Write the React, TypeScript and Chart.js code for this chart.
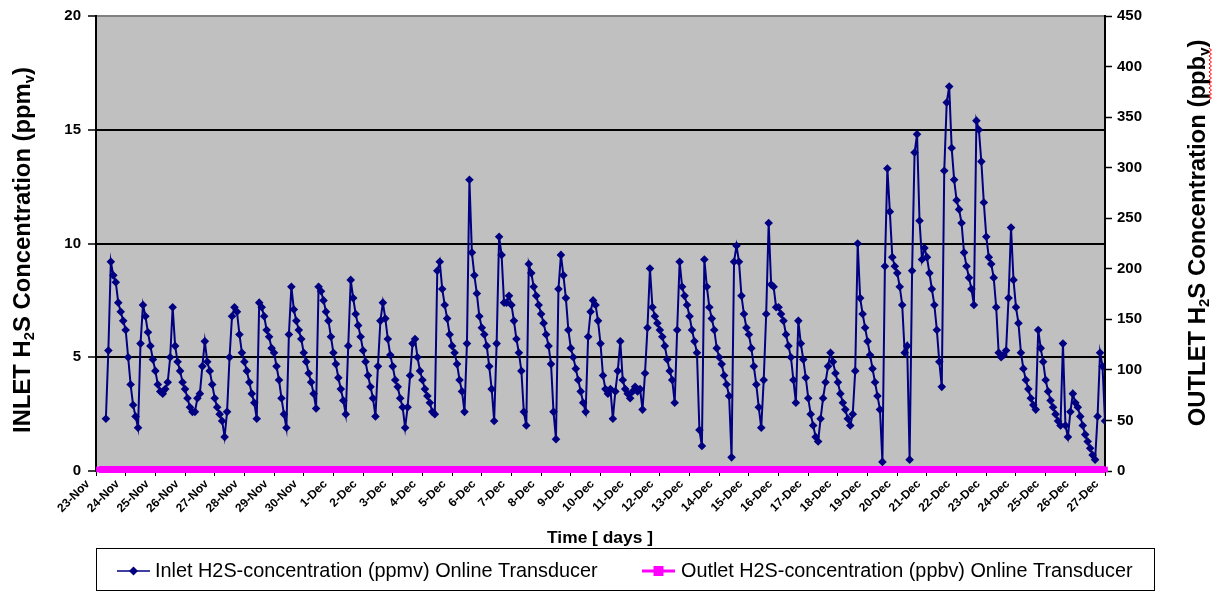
import React, { useEffect, useRef } from 'react';
import { Chart, registerables } from 'chart.js';

Chart.register(...registerables);

const FONT = "'Liberation Sans', Arial, sans-serif";

// Day tick labels (one per day tick)
const dayLabels = [
  '23-Nov', '24-Nov', '25-Nov', '26-Nov', '27-Nov', '28-Nov', '29-Nov', '30-Nov',
  '1-Dec', '2-Dec', '3-Dec', '4-Dec', '5-Dec', '6-Dec', '7-Dec', '8-Dec', '9-Dec',
  '10-Dec', '11-Dec', '12-Dec', '13-Dec', '14-Dec', '15-Dec', '16-Dec', '17-Dec',
  '18-Dec', '19-Dec', '20-Dec', '21-Dec', '22-Dec', '23-Dec', '24-Dec', '25-Dec',
  '26-Dec', '27-Dec',
];

// Inlet readings, 12 samples per day (every 2 h), ppmv
const samplesPerDay = 12;
const inletPpmv: (number | null)[] = [
  null, null, null, null, 2.3, 5.3, 9.2, 8.6, 8.3, 7.4, 7.0, 6.6,
  6.2, 5.0, 3.8, 2.9, 2.4, 1.9, 5.6, 7.3, 6.8, 6.1, 5.5, 4.9,
  4.4, 3.8, 3.5, 3.4, 3.6, 3.9, 5.0, 7.2, 5.5, 4.8, 4.4, 3.9,
  3.6, 3.2, 2.8, 2.6, 2.6, 3.2, 3.4, 4.6, 5.7, 4.8, 4.4, 3.8,
  3.2, 2.8, 2.5, 2.2, 1.5, 2.6, 5.0, 6.8, 7.2, 7.0, 6.0, 5.2,
  4.8, 4.4, 3.9, 3.4, 3.0, 2.3, 7.4, 7.2, 6.8, 6.2, 5.9, 5.4,
  5.2, 4.6, 4.0, 3.2, 2.5, 1.9, 6.0, 8.1, 7.1, 6.6, 6.2, 5.8,
  5.2, 4.8, 4.3, 3.9, 3.4, 2.75, 8.1, 7.9, 7.5, 7.0, 6.6, 5.9,
  5.2, 4.7, 4.1, 3.6, 3.1, 2.5, 5.5, 8.4, 7.6, 6.9, 6.4, 5.9,
  5.3, 4.8, 4.2, 3.7, 3.2, 2.4, 4.6, 6.6, 7.4, 6.7, 5.8, 5.1,
  4.6, 4.0, 3.7, 3.2, 2.8, 1.9, 2.8, 4.2, 5.6, 5.8, 5.0, 4.4,
  4.0, 3.6, 3.3, 3.0, 2.6, 2.5, 8.8, 9.2, 8.0, 7.3, 6.7, 6.0,
  5.5, 5.2, 4.7, 4.0, 3.5, 2.6, 5.6, 12.8, 9.6, 8.6, 7.8, 6.8,
  6.3, 6.0, 5.5, 4.6, 3.6, 2.2, 5.6, 10.3, 9.5, 7.4, 7.4, 7.7,
  7.3, 6.6, 5.8, 5.2, 4.4, 2.6, 2.0, 9.1, 8.7, 8.1, 7.7, 7.3,
  6.9, 6.5, 6.0, 5.5, 4.7, 2.6, 1.4, 8.0, 9.5, 8.6, 7.6, 6.2,
  5.4, 5.0, 4.5, 4.0, 3.5, 3.0, 2.6, 5.9, 7.0, 7.5, 7.3, 6.6,
  5.6, 4.2, 3.6, 3.4, 3.6, 2.3, 3.5, 4.4, 5.7, 4.0, 3.6, 3.4,
  3.2, 3.5, 3.7, 3.5, 3.6, 2.7, 4.3, 6.3, 8.9, 7.2, 6.8, 6.5,
  6.2, 5.9, 5.5, 4.9, 4.4, 4.0, 3.0, 6.2, 9.2, 8.1, 7.7, 7.3,
  6.8, 6.2, 5.7, 5.2, 1.8, 1.1, 9.3, 8.1, 7.2, 6.7, 6.2, 5.4,
  5.0, 4.7, 4.2, 3.8, 3.3, 0.6, 9.2, 9.9, 9.2, 7.7, 6.9, 6.3,
  6.0, 5.4, 4.6, 3.8, 2.8, 1.9, 4.0, 6.9, 10.9, 8.2, 8.1, 7.2,
  7.2, 6.9, 6.6, 6.0, 5.5, 5.0, 4.0, 3.0, 6.6, 5.6, 4.9, 4.1,
  3.2, 2.5, 2.0, 1.5, 1.3, 2.3, 3.2, 3.9, 4.6, 5.2, 4.8, 4.3,
  3.9, 3.4, 3.0, 2.7, 2.3, 2.0, 2.5, 4.4, 10.0, 7.6, 6.9, 6.3,
  5.7, 5.1, 4.5, 3.9, 3.3, 2.7, 0.4, 9.0, 13.3, 11.4, 9.4, 9.0,
  8.7, 8.1, 7.3, 5.2, 5.5, 0.5, 8.8, 14.0, 14.8, 11.0, 9.3, 9.8,
  9.4, 8.7, 8.0, 7.3, 6.2, 4.8, 3.7, 13.2, 16.2, 16.9, 14.2, 12.8,
  11.9, 11.5, 10.9, 9.6, 9.0, 8.5, 8.0, 7.3, 15.4, 15.0, 13.6, 11.8,
  10.3, 9.4, 9.1, 8.5, 7.2, 5.2, 5.0, 5.1, 5.3, 7.6, 10.7, 8.4,
  7.2, 6.5, 5.2, 4.5, 4.0, 3.6, 3.2, 2.9, 2.7, 6.2, 5.4, 4.8,
  4.0, 3.5, 3.1, 2.8, 2.5, 2.2, 2.0, 5.6, 2.0, 1.5, 2.6, 3.4,
  3.0, 2.8, 2.4, 2.0, 1.6, 1.3, 1.0, 0.7, 0.5, 2.4, 5.2, 4.6,
  2.2,
];

// Outlet readings (ppbv), one per day
const outletDays = [
  0.1, 1, 2, 3, 4, 5, 6, 7, 8, 9, 10, 11, 12, 13, 14, 15, 16, 17, 18, 19, 20,
  21, 22, 23, 24, 25, 26, 27, 28, 29, 30, 31, 32, 33, 34,
];
const outletPpbv = [
  1.5, 1.5, 1.5, 1.5, 1.5, 1.5, 1.5, 1.5, 1.5, 1.5, 1.5, 1.5, 1.5, 1.5, 1.5, 1.5, 1.5, 1.5,
  1.5, 1.5, 1.5, 1.5, 1.5, 1.5, 1.5, 1.5, 1.5, 1.5, 1.5, 1.5, 1.5, 1.5, 1.5, 1.5, 1.5,
];

const inletLabel = 'Inlet H2S-concentration (ppmv) Online Transducer';
const outletLabel = 'Outlet H2S-concentration (ppbv) Online Transducer';

type Part = { t: string; sub?: boolean };

function partsWidth(ctx: CanvasRenderingContext2D, parts: Part[], size: number, weight: string) {
  let w = 0;
  for (const p of parts) {
    ctx.font = `${weight} ${p.sub ? size * 0.62 : size}px ${FONT}`;
    w += ctx.measureText(p.t).width;
  }
  return w;
}

function drawParts(
  ctx: CanvasRenderingContext2D, parts: Part[], cx: number, cy: number,
  target: number, rot: number, weight: string, align: 'center' | 'left' = 'center',
) {
  const size = (20 * target) / partsWidth(ctx, parts, 20, weight);
  const total = partsWidth(ctx, parts, size, weight);
  ctx.save();
  ctx.translate(cx, cy);
  ctx.rotate(rot);
  ctx.fillStyle = '#000';
  ctx.textBaseline = 'middle';
  ctx.textAlign = 'left';
  let x = align === 'center' ? -total / 2 : 0;
  for (const p of parts) {
    const s = p.sub ? size * 0.62 : size;
    ctx.font = `${weight} ${s}px ${FONT}`;
    ctx.fillText(p.t, x, p.sub ? size * 0.3 : 0);
    x += ctx.measureText(p.t).width;
  }
  ctx.restore();
}

const decorPlugin = {
  id: 'decor',
  beforeDraw(chart: any) {
    const { ctx, chartArea: a } = chart;
    ctx.save();
    ctx.fillStyle = '#C0C0C0';
    ctx.fillRect(a.left, a.top, a.right - a.left, a.bottom - a.top);
    ctx.restore();
  },
  afterDraw(chart: any) {
    const ctx: CanvasRenderingContext2D = chart.ctx;
    // axis titles
    drawParts(ctx, [{ t: 'INLET H' }, { t: '2', sub: true }, { t: 'S Concentration (ppm' }, { t: 'v', sub: true }, { t: ')' }],
      23, 250, 366, -Math.PI / 2, 'bold');
    drawParts(ctx, [{ t: 'OUTLET H' }, { t: '2', sub: true }, { t: 'S Concentration (ppb' }, { t: 'v', sub: true }, { t: ')' }],
      1198, 233, 387, -Math.PI / 2, 'bold');
    drawParts(ctx, [{ t: 'Time [ days ]' }], 600, 538, 106, 0, 'bold');

    // red squiggle under "ppbv"
    ctx.save();
    ctx.strokeStyle = '#ff0000';
    ctx.lineWidth = 1;
    ctx.beginPath();
    let flip = false;
    ctx.moveTo(1209, 48);
    for (let y = 50; y <= 100; y += 2) {
      ctx.lineTo(flip ? 1209 : 1211.5, y);
      flip = !flip;
    }
    ctx.stroke();
    ctx.restore();

    // legend box
    ctx.save();
    ctx.strokeStyle = '#000';
    ctx.lineWidth = 1;
    ctx.strokeRect(96.5, 548.5, 1058, 42);
    // inlet sample
    ctx.strokeStyle = '#000080';
    ctx.lineWidth = 1.5;
    ctx.beginPath();
    ctx.moveTo(117, 571);
    ctx.lineTo(150, 571);
    ctx.stroke();
    ctx.fillStyle = '#000080';
    ctx.beginPath();
    ctx.moveTo(133.5, 566.5);
    ctx.lineTo(138, 571);
    ctx.lineTo(133.5, 575.5);
    ctx.lineTo(129, 571);
    ctx.closePath();
    ctx.fill();
    // outlet sample
    ctx.strokeStyle = '#FF00FF';
    ctx.lineWidth = 3;
    ctx.beginPath();
    ctx.moveTo(642, 571);
    ctx.lineTo(675, 571);
    ctx.stroke();
    ctx.fillStyle = '#FF00FF';
    ctx.fillRect(653.5, 566, 10, 10);
    ctx.restore();
    drawParts(ctx, [{ t: inletLabel }], 155, 572, 443, 0, 'normal', 'left');
    drawParts(ctx, [{ t: outletLabel }], 681, 572, 452, 0, 'normal', 'left');
  },
};

export default function App() {
  const ref = useRef<HTMLCanvasElement | null>(null);

  useEffect(() => {
    if (!ref.current) return;
    const inletPoints = inletPpmv.map((v, i) => ({ x: i / samplesPerDay, y: v }));
    const outletPoints = outletDays.map((d, i) => ({ x: d, y: outletPpbv[i] }));

    const chart = new Chart(ref.current, {
      type: 'line',
      data: {
        datasets: [
          {
            label: outletLabel,
            data: outletPoints as any,
            yAxisID: 'y1',
            borderColor: '#FF00FF',
            backgroundColor: '#FF00FF',
            borderWidth: 7,
            pointStyle: 'rect',
            pointRadius: 4,
            pointBorderWidth: 0,
            pointBackgroundColor: '#FF00FF',
            clip: false as any,
            order: 2,
          },
          {
            label: inletLabel,
            data: inletPoints as any,
            yAxisID: 'y',
            borderColor: '#000080',
            backgroundColor: '#000080',
            borderWidth: 2,
            pointStyle: 'rectRot',
            pointRadius: 4.3,
            pointBorderWidth: 0,
            pointBackgroundColor: '#000080',
            spanGaps: false,
            order: 1,
          },
        ],
      },
      options: {
        responsive: false,
        maintainAspectRatio: false,
        animation: false,
        layout: { padding: { top: 16, left: 0, right: 0, bottom: 0 } },
        plugins: { legend: { display: false }, tooltip: { enabled: false }, title: { display: false } },
        scales: {
          x: {
            type: 'linear',
            min: 0,
            max: 34,
            afterFit: (s: any) => { s.height = 121; },
            afterBuildTicks: (s: any) => { s.ticks = dayLabels.map((_, i) => ({ value: i })); },
            border: { color: '#000', width: 2 },
            grid: { drawOnChartArea: false, drawTicks: true, tickLength: 5, color: '#000', lineWidth: 1 },
            ticks: {
              autoSkip: false,
              maxRotation: 45,
              minRotation: 45,
              labelOffset: -8,
              padding: 1,
              color: '#000',
              font: { family: FONT, size: 12, weight: 'bold' },
              callback: (v: any) => dayLabels[Math.round(Number(v))] ?? '',
            },
          },
          y: {
            type: 'linear',
            position: 'left',
            min: 0,
            max: 20,
            afterFit: (s: any) => { s.width = 96; },
            border: { color: '#000', width: 2 },
            grid: {
              color: (c: any) => (c.tick && c.tick.value === 20 ? '#808080' : '#000'),
              lineWidth: 2,
              tickLength: 8,
              tickColor: '#000',
              tickWidth: 1.5,
            },
            ticks: {
              stepSize: 5,
              padding: 7,
              color: '#000',
              font: { family: FONT, size: 15, weight: 'bold' },
            },
          },
          y1: {
            type: 'linear',
            position: 'right',
            min: 0,
            max: 450,
            afterFit: (s: any) => { s.width = 116; },
            border: { color: '#000', width: 2 },
            grid: { drawOnChartArea: false, tickLength: 7, color: '#000', tickColor: '#000', tickWidth: 1.5 },
            ticks: {
              stepSize: 50,
              padding: 5,
              color: '#000',
              font: { family: FONT, size: 15, weight: 'bold' },
            },
          },
        },
      } as any,
      plugins: [decorPlugin],
    });
    return () => chart.destroy();
  }, []);

  return (
    <div style={{ position: 'fixed', left: 0, top: 0, width: 1221, height: 592, background: '#fff' }}>
      <canvas ref={ref} width={1221} height={592} style={{ display: 'block', width: 1221, height: 592 }} />
    </div>
  );
}
